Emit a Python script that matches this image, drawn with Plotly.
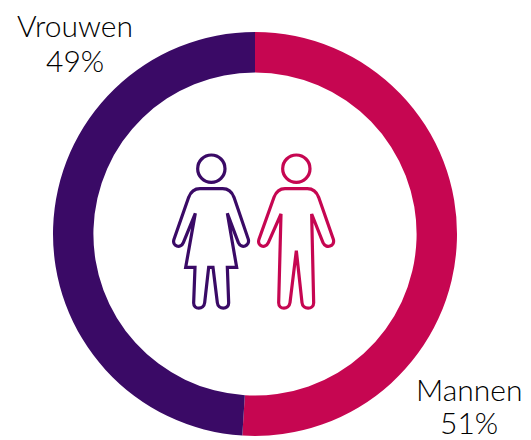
import plotly.graph_objects as go

# The page has an 8px body margin, so the figure starts at (8, 8) in the window.
OFF = 8
W, H = 531 - OFF, 440 - OFF
labels = ["Mannen", "Vrouwen"]
values = [51, 49]
colors = ["#C60651", "#3A0A66"]
label_pos = [(469, 389, 422), (75, 25, 60)]
FONT = "Lato"
STROKE = 3.2

def px(x, y):
    return (x - OFF) / W, 1 - (y - OFF) / H

def zoom_pt(x, y):
    return px(150 + x / 3, 140 + y / 3)

def path(cmds):
    out = []
    for c in cmds:
        op, pts = c[0], c[1:]
        out.append(op + " ".join("%.5f,%.5f" % zoom_pt(*p) for p in pts))
    return " ".join(out) + " Z"

woman = [
    ("M", (150, 146)), ("L", (218, 146)), ("C", (236, 146), (246, 156), (252, 172)),
    ("L", (295, 298)), ("C", (300, 318), (274, 328), (265, 308)),
    ("L", (232, 220)), ("L", (260, 382)), ("L", (232, 382)), ("L", (236, 488)),
    ("C", (237, 510), (204, 510), (202, 488)),
    ("L", (189, 382)), ("L", (176, 382)), ("L", (164, 488)),
    ("C", (162, 510), (130, 510), (131, 488)),
    ("L", (135, 382)), ("L", (107, 382)), ("L", (136, 220)), ("L", (100, 308)),
    ("C", (92, 328), (65, 318), (72, 298)),
    ("L", (116, 172)), ("C", (122, 156), (132, 146), (150, 146)),
]
man = [
    ("M", (405, 146)), ("L", (472, 146)), ("C", (490, 146), (500, 156), (506, 172)),
    ("L", (550, 298)), ("C", (556, 318), (528, 328), (519, 308)),
    ("L", (485, 222)), ("L", (491, 488)), ("C", (491, 510), (458, 510), (456, 488)),
    ("L", (439, 332)), ("L", (420, 488)), ("C", (417, 510), (386, 510), (386, 488)),
    ("L", (393, 222)), ("L", (355, 308)), ("C", (346, 328), (320, 318), (327, 298)),
    ("L", (372, 172)), ("C", (378, 156), (388, 146), (405, 146)),
]

shapes = []
for body, cx, col in [(woman, 184, colors[1]), (man, 439, colors[0])]:
    shapes.append(dict(type="path", xref="paper", yref="paper", path=path(body),
                       line=dict(color=col, width=STROKE), fillcolor="rgba(0,0,0,0)"))
    x0, y0 = zoom_pt(cx - 41, 45)
    x1, y1 = zoom_pt(cx + 41, 127)
    shapes.append(dict(type="circle", xref="paper", yref="paper", x0=x0, y0=y1, x1=x1, y1=y0,
                       line=dict(color=col, width=STROKE), fillcolor="rgba(0,0,0,0)"))

annotations = []
for lab, val, (lx, ly1, ly2) in zip(labels, values, label_pos):
    for txt, ly in [(lab, ly1), (f"{val}%", ly2)]:
        x, y = px(lx, ly)
        annotations.append(dict(xref="paper", yref="paper", x=x, y=y, showarrow=False,
                                xanchor="center", yanchor="middle", text=txt,
                                font=dict(family=FONT, size=30, color="#000000", weight=300)))

dx0, dy0 = px(53, 436)
dx1, dy1 = px(457, 32)
fig = go.Figure(go.Pie(
    labels=labels, values=values, hole=0.8, sort=False, direction="clockwise", rotation=0,
    marker=dict(colors=colors, line=dict(width=0)), textinfo="none", hoverinfo="label+percent",
    domain=dict(x=[dx0, dx1], y=[dy0, dy1]), showlegend=False,
))
fig.update_layout(width=W, height=H, autosize=False, margin=dict(l=0, r=0, t=0, b=0),
                  paper_bgcolor="white", shapes=shapes, annotations=annotations,
                  font=dict(family=FONT))
fig.write_html("out.html", config=dict(displayModeBar=False))
